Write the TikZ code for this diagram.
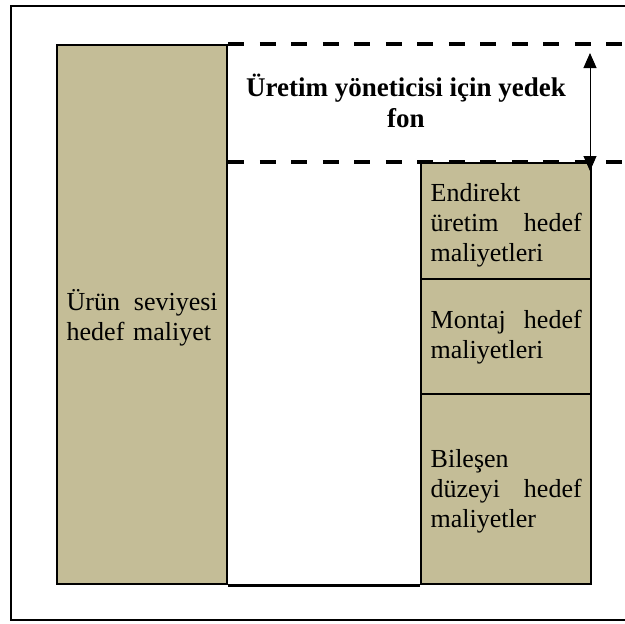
\documentclass[tikz,border=0pt]{standalone}
\usepackage{fontspec}
\setmainfont{Liberation Serif}
\usetikzlibrary{arrows.meta}
\definecolor{tan}{HTML}{C4BD97}
% invisible strut that lowers a centred text block by half its height gain
\newcommand{\toplift}[1]{\rule{0pt}{#1}}
\tikzset{
  x=1pt, y=-1pt,
  costbox/.style={draw=black, line width=2.4pt, fill=tan, anchor=north west,
    minimum width=170pt, text width=151pt, inner sep=0pt, align=left,
    font=\fontsize{26}{30}\selectfont},
  reserve/.style={line width=3.6pt, dash pattern=on 16pt off 15.5pt},
  frame/.style={line width=2pt},
  span/.style={line width=1pt, {Triangle[width=13pt,length=15pt]}-{Triangle[width=13pt,length=15pt]}}
}
\begin{document}
\begin{tikzpicture}
\useasboundingbox (0,0) rectangle (625,624);
\clip (0,0) rectangle (625,624);
% outer frame (right side runs past the page edge)
\draw[frame] (11,6) rectangle (660,620);

% product-level target cost
\node[costbox, minimum height=539pt] (urun) at (56,44)
  {\toplift{28pt}Ürün\hfill seviyesi\\ hedef maliyet};

% component stack
\node[costbox, minimum height=116pt] (endirekt) at (420,162)
  {\toplift{26pt}Endirekt\\ üretim\hfill hedef\\ maliyetleri};
\node[costbox, minimum height=115pt] (montaj) at (420,278)
  {Montaj\hfill hedef\\ maliyetleri};
\node[costbox, minimum height=190pt] (bilesen) at (420,393)
  {\toplift{22pt}Bileşen\\ düzeyi\hfill hedef\\ maliyetler};

% base line joining the two columns
\draw[line width=2.4pt] (urun.south east) -- (bilesen.south west);

% reserve band limits
\coordinate (topend) at (640,44);
\coordinate (lowstart) at (urun.east |- endirekt.north);
\coordinate (lowend) at (640,162);
\draw[reserve] (urun.north east) -- (topend);
\draw[reserve] (lowstart) -- (lowend);

\node[font=\fontsize{27}{31}\selectfont\bfseries, align=center] (fon) at (406,101)
  {Üretim yöneticisi için yedek\\ fon};

% height of the reserve
\coordinate (spantop) at (590,53);
\coordinate (spanbot) at (590,171);
\draw[span] (spantop) -- (spanbot);
\end{tikzpicture}
\end{document}
